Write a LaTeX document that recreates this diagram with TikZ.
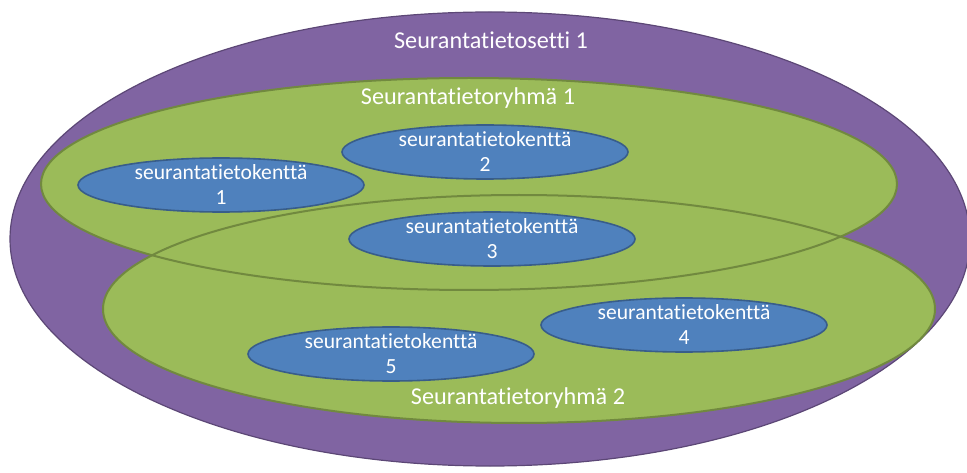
\documentclass[tikz,border=0pt]{standalone}
\usepackage{fontspec}
\setmainfont{Carlito}[Ligatures={NoCommon}]
\usetikzlibrary{shapes.geometric}
\definecolor{setfill}{HTML}{8064A2}
\definecolor{setline}{HTML}{5C4776}
\definecolor{grpfill}{HTML}{9BBB59}
\definecolor{grpline}{HTML}{71893F}
\definecolor{fldfill}{HTML}{4F81BD}
\definecolor{fldline}{HTML}{385D8A}
\tikzset{
  setshape/.style={ellipse, inner sep=0pt, fill=setfill, draw=setline, line width=1.2pt},
  grpfillshape/.style={ellipse, inner sep=0pt, fill=grpfill},
  grplineshape/.style={ellipse, inner sep=0pt, draw=grpline, line width=2pt},
  fld/.style={ellipse, inner sep=0pt, minimum width=286pt, minimum height=54pt,
    fill=fldfill, draw=fldline, line width=1.6pt},
  fldtext/.style={text=white, align=center, font=\fontsize{21.6}{25}\selectfont},
  bigtext/.style={text=white, font=\fontsize{24.2}{28}\selectfont},
}
\begin{document}
\begin{tikzpicture}[x=1pt, y=-1pt]
  \useasboundingbox (0,0) rectangle (967,473);
  \clip (0,0) rectangle (967,473);
  % outer set
  \node[setshape, minimum width=960pt, minimum height=454pt] (set) at (490,239) {};
  % the two groups: fills first, then both outlines on top
  \node[grpfillshape, minimum width=832pt, minimum height=228pt] (g2f) at (519,309) {};
  \node[grpfillshape, minimum width=856pt, minimum height=212pt] (g1f) at (469,184) {};
  \node[grplineshape, minimum width=832pt, minimum height=228pt] (g2) at (519,309) {};
  \node[grplineshape, minimum width=856pt, minimum height=212pt] (g1) at (469,184) {};
  % labels
  \node[bigtext] (setlabel) at (491,40) {Seurantatietosetti 1};
  \node[bigtext] (g1label) at (468,98) {Seurantatietoryhmä 1};
  \node[bigtext] (g2label) at (518,398) {Seurantatietoryhmä 2};
  % fields
  \node[fld] (f1) at (221,185) {};
  \node[fld] (f2) at (485,152) {};
  \node[fld] (f3) at (492,239) {};
  \node[fld] (f4) at (684,325) {};
  \node[fld] (f5) at (391,354) {};
  \node[fldtext] at (f1) {seurantatietokenttä\\1};
  \node[fldtext] at (f2) {seurantatietokenttä\\2};
  \node[fldtext] at (f3) {seurantatietokenttä\\3};
  \node[fldtext] at (f4) {seurantatietokenttä\\4};
  \node[fldtext] at (f5) {seurantatietokenttä\\5};
\end{tikzpicture}
\end{document}
